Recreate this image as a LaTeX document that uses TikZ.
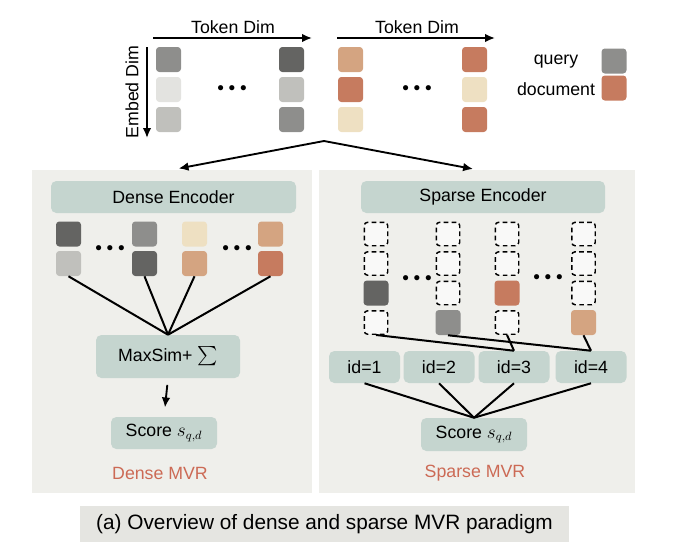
\documentclass[tikz,border=0pt]{standalone}
\usepackage{fontspec}
\setmainfont{Liberation Sans}
\usepackage{xcolor}
\definecolor{panelbg}{HTML}{EFEFEB}
\definecolor{boxfill}{HTML}{C5D5CF}
\definecolor{capbg}{HTML}{E5E5E1}
\definecolor{mvrred}{HTML}{CC6A55}
\definecolor{qgray}{HTML}{8E8E8C}
\definecolor{qdark}{HTML}{646462}
\definecolor{qmid}{HTML}{C0C0BC}
\definecolor{qlight}{HTML}{E3E3E0}
\definecolor{dtan}{HTML}{D4A481}
\definecolor{dred}{HTML}{C67B5F}
\definecolor{dcream}{HTML}{EEE0C2}
\usepackage{amsmath}
\usepackage{tikz}
\usetikzlibrary{arrows.meta, positioning, calc}
\newcommand{\lblfont}{\fontsize{13.3}{16}\selectfont}
\newcommand{\capfont}{\fontsize{15.6}{18}\selectfont}
\newcommand{\tdots}{{\fontsize{10}{10}\selectfont$\bullet$\hspace{3.5pt}$\bullet$\hspace{3.5pt}$\bullet$}}
\tikzset{%
    tok/.style={%
        rectangle, rounded corners=2.5pt, minimum size=18.75pt, inner sep=0, draw=none
    },
    ghost/.style={%
        tok, minimum size=17.6pt, fill=white!65!panelbg, draw=black,
        dash pattern=on 3.5pt off 2.5pt, line width=1.1pt
    },
    enc/.style={%
        rectangle, rounded corners=4pt, fill=boxfill, inner sep=0, font=\lblfont
    },
    panel/.style={%
        rectangle, fill=panelbg, inner sep=0
    },
    conn/.style={%
        line width=1.5pt
    },
    flow/.style={%
        line width=1.4pt, -{Latex[length=7.5pt, width=6.5pt]}
    },
}

\begin{document}
\begin{tikzpicture}[
        x=0.75pt, y=-0.75pt,
        every label/.append style={font=\lblfont},
        lbl/.style={font=\lblfont, inner sep=0},
        mvr/.style={font=\lblfont, text=mvrred, inner sep=0},
    ]
        \useasboundingbox (0,0) rectangle (680,557);

        % token matrices
        \coordinate (tokL1) at (153,38);
        \coordinate (tokL2) at (312,38);
        \coordinate (tokR1) at (337,38);
        \coordinate (tokR2) at (495,38);
        \coordinate (emb1) at (147,47);
        \coordinate (emb2) at (147,138);
        \draw[flow] (tokL1) to (tokL2);
        \draw[flow] (tokR1) to (tokR2);
        \draw[flow] (emb1) to (emb2);
        \node[lbl] (tdimL) at (233,27) {Token Dim};
        \node[lbl] (tdimR) at (417,27) {Token Dim};
        \node[lbl, rotate=90] (edim) at (132,92) {Embed Dim};

        \node[tok, fill=qgray] (q11) at (168.5,59.5) {};
        \node[tok, fill=qlight] (q12) at (168.5,89.5) {};
        \node[tok, fill=qmid] (q13) at (168.5,119.5) {};
        \node[tok, fill=qdark] (q21) at (291.5,59.5) {};
        \node[tok, fill=qmid] (q22) at (291.5,89.5) {};
        \node[tok, fill=qgray] (q23) at (291.5,119.5) {};
        \node[lbl] (qdots) at (232,89) {\tdots};

        \node[tok, fill=dtan] (d11) at (350.5,59.5) {};
        \node[tok, fill=dred] (d12) at (350.5,89.5) {};
        \node[tok, fill=dcream] (d13) at (350.5,119.5) {};
        \node[tok, fill=dred] (d21) at (474.5,59.5) {};
        \node[tok, fill=dcream] (d22) at (474.5,89.5) {};
        \node[tok, fill=dred] (d23) at (474.5,119.5) {};
        \node[lbl] (ddots) at (417,89) {\tdots};

        \node[lbl] (legq) at (556,62) {query};
        \node[lbl] (legd) at (556,89) {document};
        \node[tok, fill=qgray] (legqbox) at (614,61) {};
        \node[tok, fill=dred] (legdbox) at (614,88) {};

        % panels
        \node[panel, minimum width=210pt, minimum height=242.25pt] (densebg) at (172,331.5) {};
        \node[panel, minimum width=237pt, minimum height=242.25pt] (sparsebg) at (477,331.5) {};
        \coordinate (split) at (324,141);
        \draw[flow, shorten >=5pt] (split) to (densebg.north);
        \draw[flow, shorten >=3pt] (split) to (sparsebg.north);

        % dense side
        \node[enc, minimum width=183.75pt, minimum height=24pt] (denseenc) at (173.5,197) {Dense Encoder};
        \node[tok, fill=qdark] (dq11) at (68.5,234) {};
        \node[tok, fill=qmid] (dq12) at (68.5,263.5) {};
        \node[tok, fill=qgray] (dq21) at (144.5,234) {};
        \node[tok, fill=qdark] (dq22) at (144.5,263.5) {};
        \node[tok, fill=dcream] (dd11) at (194.5,234) {};
        \node[tok, fill=dtan] (dd12) at (194.5,263.5) {};
        \node[tok, fill=dtan] (dd21) at (270.5,234) {};
        \node[tok, fill=dred] (dd22) at (270.5,263.5) {};
        \node[lbl] (dqdots) at (110,249) {\tdots};
        \node[lbl] (dddots) at (237,249) {\tdots};

        \node[enc, minimum width=108pt, minimum height=32.25pt] (maxsim) at (168,356.5) {MaxSim+ $\sum$};
        \node[enc, minimum width=79.5pt, minimum height=24pt] (dscore) at (164,433) {Score $s_{q,d}$};
        \node[mvr] (densemvr) at (160,473) {Dense MVR};

        \draw[conn] (dq12.south) to (maxsim.north);
        \draw[conn] (dq22.south) to (maxsim.north);
        \draw[conn] (dd12.south) to (maxsim.north);
        \draw[conn] (dd22.south) to (maxsim.north);
        \draw[flow, shorten <=5pt, shorten >=7pt] (maxsim.south) to (dscore.north);

        % sparse side
        \node[enc, minimum width=183pt, minimum height=24pt] (sparseenc) at (483,197) {Sparse Encoder};
        \node[ghost] (sp11) at (376,234) {};
        \node[ghost] (sp12) at (376,263.5) {};
        \node[tok, fill=qdark] (sp13) at (376,293) {};
        \node[ghost] (sp14) at (376,322.5) {};
        \node[ghost] (sp21) at (448,234) {};
        \node[ghost] (sp22) at (448,263.5) {};
        \node[ghost] (sp23) at (448,293) {};
        \node[tok, fill=qgray] (sp24) at (448,322.5) {};
        \node[ghost] (sp31) at (507,234) {};
        \node[ghost] (sp32) at (507,263.5) {};
        \node[tok, fill=dred] (sp33) at (507,293) {};
        \node[ghost] (sp34) at (507,322.5) {};
        \node[ghost] (sp41) at (583.5,234) {};
        \node[ghost] (sp42) at (583.5,263.5) {};
        \node[ghost] (sp43) at (583.5,293) {};
        \node[tok, fill=dtan] (sp44) at (583.5,322.5) {};
        \node[lbl] (spqdots) at (417,279) {\tdots};
        \node[lbl] (spddots) at (548,278) {\tdots};

        \node[enc, minimum width=53.25pt, minimum height=24pt] (id1) at (364.5,367) {id=1};
        \node[enc, minimum width=53.25pt, minimum height=24pt] (id2) at (439,367) {id=2};
        \node[enc, minimum width=53.25pt, minimum height=24pt] (id3) at (514,367) {id=3};
        \node[enc, minimum width=53.25pt, minimum height=24pt] (id4) at (591,367) {id=4};
        \node[enc, minimum width=79.5pt, minimum height=24.75pt] (sscore) at (474,434.5) {Score $s_{q,d}$};
        \node[mvr] (sparsemvr) at (475,473) {Sparse MVR};

        \draw[conn] (sp14.south) to (id3.north);
        \draw[conn] (sp24.south) to (id4.north);
        \draw[conn] (sp34.south) to (id3.north);
        \draw[conn] (sp44.south) to (id4.north);
        \draw[conn] (id1.south) to (sscore.north);
        \draw[conn] (id2.south) to (sscore.north);
        \draw[conn] (id3.south) to (sscore.north);
        \draw[conn] (id4.south) to (sscore.north);

        % caption
        \node[panel, fill=capbg, font=\capfont, minimum width=366.75pt, minimum height=27pt] (caption) at (324.5,524) {(a) Overview of dense and sparse MVR paradigm};

    \end{tikzpicture}
\end{document}
